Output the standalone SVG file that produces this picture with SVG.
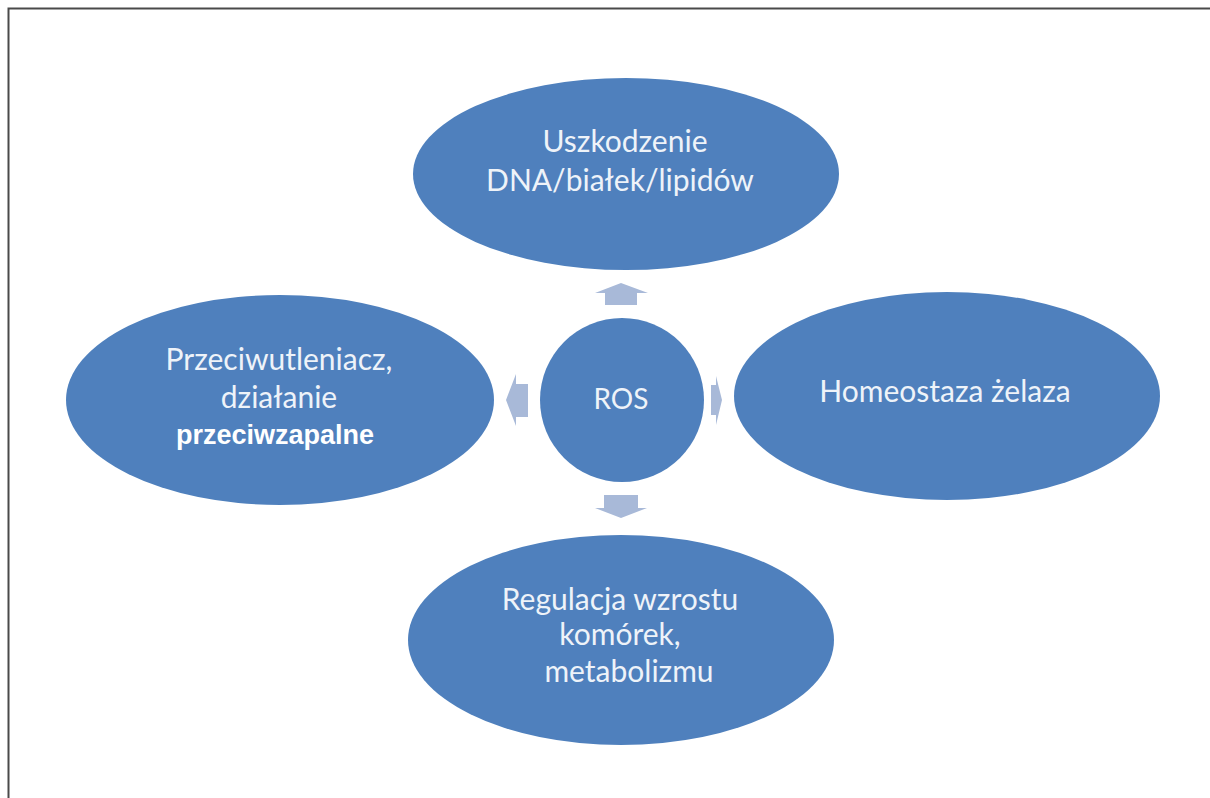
<svg xmlns="http://www.w3.org/2000/svg" width="1210" height="798" viewBox="0 0 1210 798">
<style>
.node{fill:#4f80bd;}
.lbl{font-family:Lato,"Open Sans","DejaVu Sans",sans-serif;font-size:30px;fill:#eef3f9;text-anchor:middle;}
.bold{font-family:"Liberation Sans",Arial,sans-serif;font-weight:bold;font-size:27px;fill:#ffffff;text-anchor:middle;}
.arr{fill:#a8b9d8;}
</style>
<rect x="0" y="0" width="1210" height="798" fill="#ffffff"/>
<path d="M8.5 798 V8.5 H1210" fill="none" stroke="#4a4a4a" stroke-width="2"/>
<g id="connectors">
<polygon class="arr" points="605,305 605,293 595,293 621,283 648,293 637,293 637,305"/>
<polygon class="arr" points="604,495 638,495 638,508 647,508 621,518 595,508 604,508"/>
<polygon class="arr" points="528,384 528,417 516,417 516,426 506,400 516,374 516,384"/>
<polygon class="arr" points="711,385 716,385 716,376 722,400 716,425 716,415 711,415"/>
</g>
<g id="node-top">
<ellipse class="node" cx="626" cy="174" rx="213" ry="96"/>
<text class="lbl" x="625" y="152">Uszkodzenie</text>
<text class="lbl" x="620" y="191">DNA/białek/lipidów</text>
</g>
<g id="node-left">
<ellipse class="node" cx="280" cy="400" rx="214" ry="105"/>
<text class="lbl" x="279" y="370">Przeciwutleniacz,</text>
<text class="lbl" x="279" y="408">działanie</text>
<text class="bold" x="275" y="444">przeciwzapalne</text>
</g>
<g id="node-right">
<ellipse class="node" cx="947" cy="396" rx="213" ry="104"/>
<text class="lbl" x="945" y="402">Homeostaza żelaza</text>
</g>
<g id="node-bottom">
<ellipse class="node" cx="621" cy="640" rx="213" ry="105"/>
<text class="lbl" x="620" y="610">Regulacja wzrostu</text>
<text class="lbl" x="620" y="645">komórek,</text>
<text class="lbl" x="629" y="682">metabolizmu</text>
</g>
<g id="node-ros">
<circle class="node" cx="622" cy="400" r="82"/>
<text class="lbl" x="621" y="409" style="font-size:28px">ROS</text>
</g>
</svg>
